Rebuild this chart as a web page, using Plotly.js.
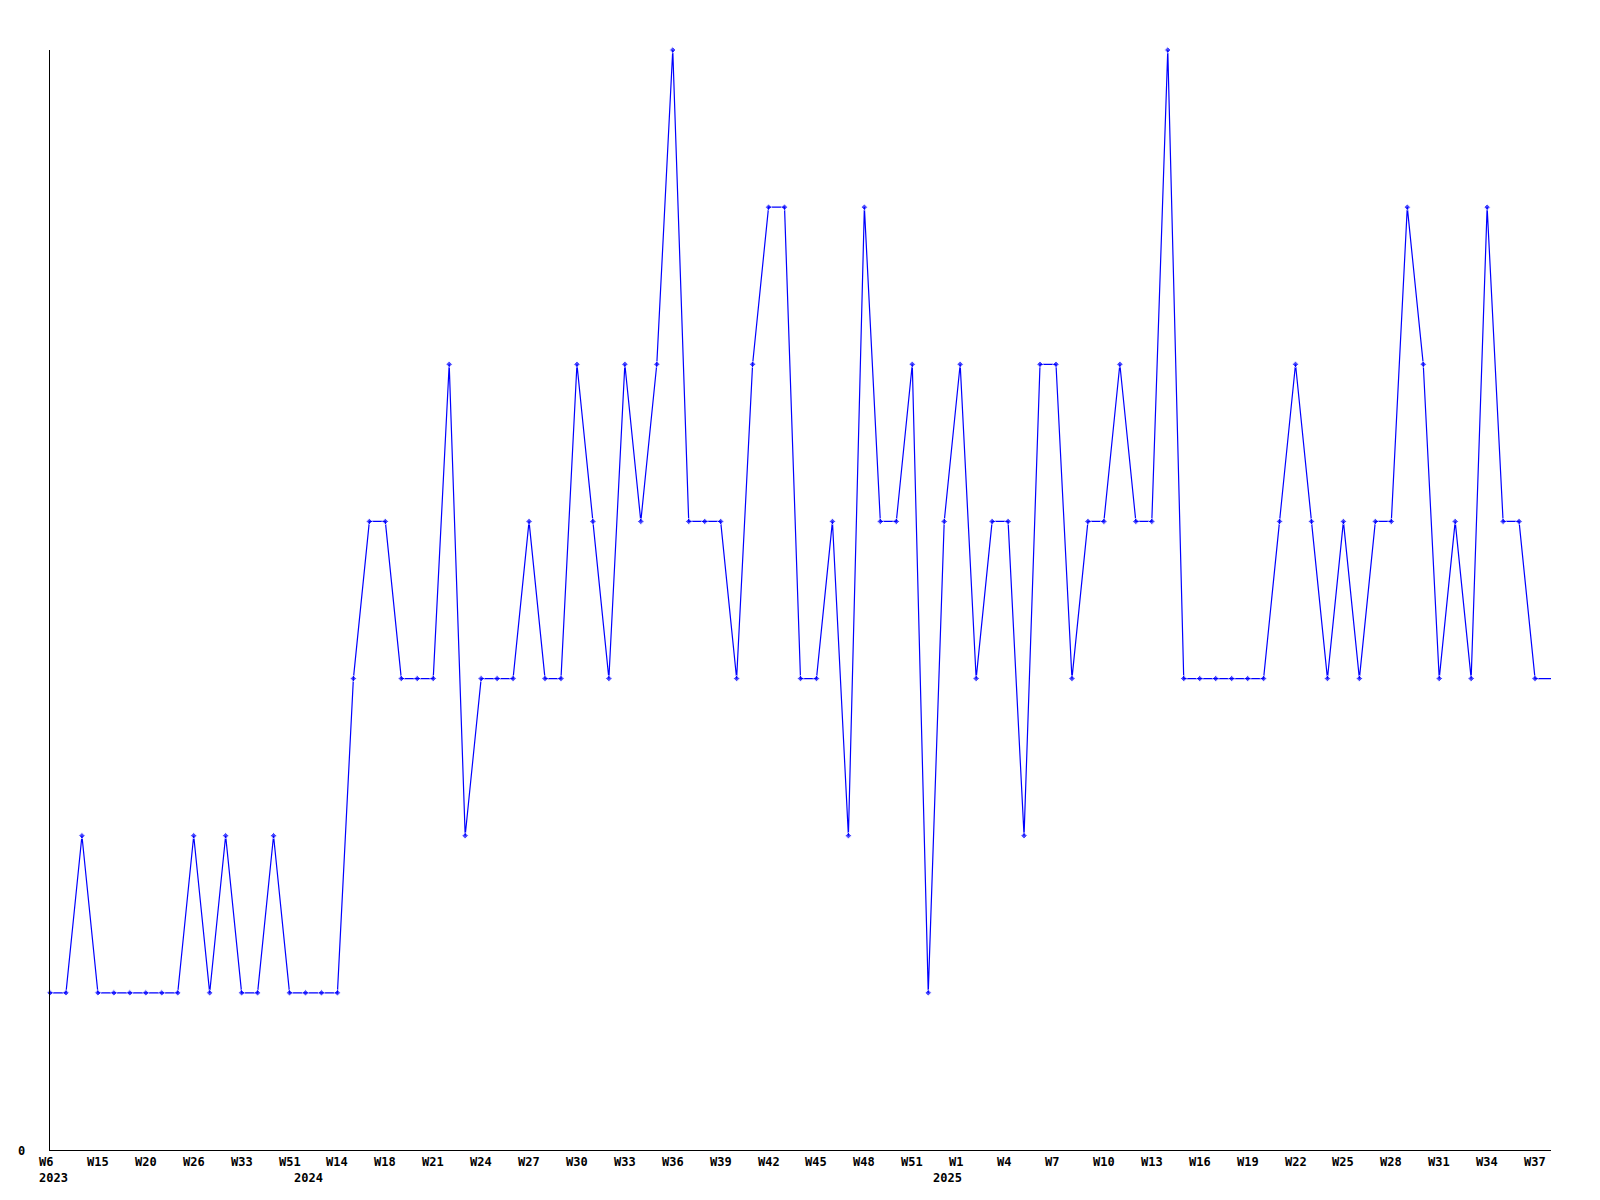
<!DOCTYPE html>
<html>
<head>
<meta charset="utf-8">
<script src="https://cdn.plot.ly/plotly-3.0.1.min.js"></script>
<style>html,body{margin:0;padding:0;background:#fff;}#chart{width:1600px;height:1200px;}</style>
</head>
<body>
<div id="chart"></div>
<script>
// weekly values, one per point (last point lies on the right edge)
const values = [
  1,1,2,1,1,1,1,1,1,2,1,2,1,1,2,1,1,1,1,3,
  4,4,3,3,3,5,2,3,3,3,4,3,3,5,4,3,5,4,5,7,
  4,4,4,3,5,6,6,3,3,4,2,6,4,4,5,1,4,5,3,4,
  4,2,5,5,3,4,4,5,4,4,7,3,3,3,3,3,3,4,5,4,
  3,4,3,4,4,6,5,3,4,3,6,4,4,3,3
];
// tick labels, one every 3 points
const weekLabels = ['W6','W15','W20','W26','W33','W51','W14','W18','W21','W24','W27',
  'W30','W33','W36','W39','W42','W45','W48','W51','W1','W4','W7','W10','W13','W16',
  'W19','W22','W25','W28','W31','W34','W37'];
const labelStep = 3;
const yearLabels = ['2023','2024','2025'];
const yearIndex = [0,16,56];

const xs = values.map((v,i)=>i);
const sizes = values.map((v,i)=> i === values.length-1 ? 0 : 5);

const font = {family:'"DejaVu Sans Mono", "Liberation Mono", monospace', size:12, color:'#000'};
const annotations = [];
weekLabels.forEach((t,i)=>{
  annotations.push({x:i*labelStep, xref:'x', y:0, yref:'paper', text:'<b>'+t+'</b>',
    showarrow:false, xanchor:'left', yanchor:'middle', xshift:-13, yshift:-12, font:font});
});
yearLabels.forEach((t,i)=>{
  annotations.push({x:yearIndex[i], xref:'x', y:0, yref:'paper', text:'<b>'+t+'</b>',
    showarrow:false, xanchor:'left', yanchor:'middle', xshift:-13, yshift:-28, font:font});
});
annotations.push({x:0, xref:'paper', y:0, yref:'y', text:'<b>0</b>', showarrow:false,
  xanchor:'right', yanchor:'middle', xshift:-23, yshift:-1, font:font});

const trace = {
  x: xs, y: values, type:'scatter', mode:'lines+markers',
  line:{color:'#0000ff', width:1.2},
  marker:{color:'#0000ff', size:sizes, symbol:'diamond'},
  cliponaxis:false, hoverinfo:'skip'
};

const layout = {
  width:1600, height:1200,
  margin:{l:50, r:49, t:50, b:50, pad:0},
  paper_bgcolor:'#fff', plot_bgcolor:'#fff',
  showlegend:false,
  xaxis:{range:[0,94], showgrid:false, zeroline:false, showline:true, linecolor:'#000',
    linewidth:1, showticklabels:false, ticks:'', fixedrange:true},
  yaxis:{range:[0,7], showgrid:false, zeroline:false, showline:true, linecolor:'#000',
    linewidth:1, showticklabels:false, ticks:'', fixedrange:true},
  annotations: annotations
};
Plotly.newPlot('chart', [trace], layout, {staticPlot:true, displayModeBar:false});
</script>
</body>
</html>
